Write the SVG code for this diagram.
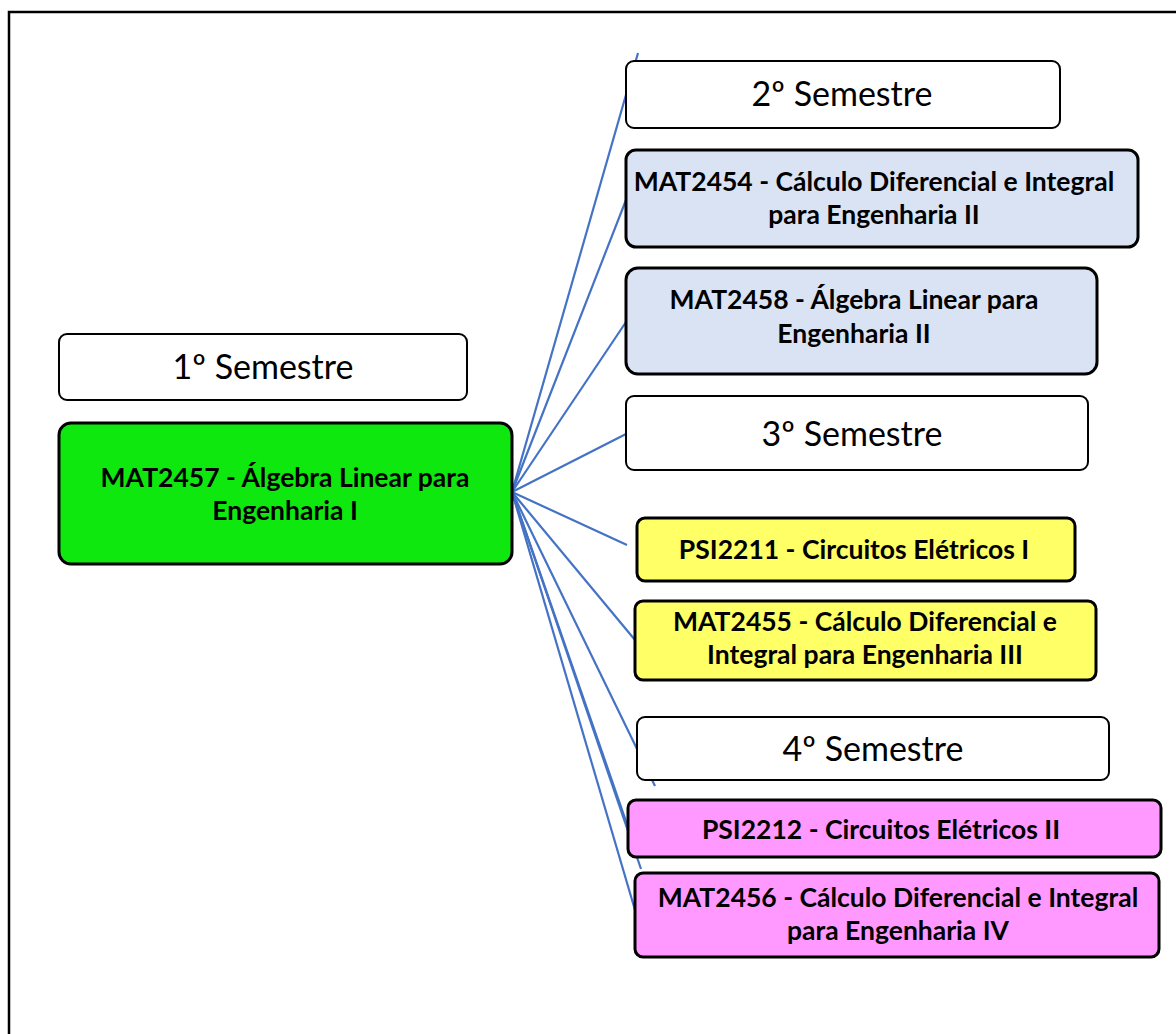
<svg xmlns="http://www.w3.org/2000/svg" width="1176" height="1034" viewBox="0 0 1176 1034">
  <style>
    .frame { fill: #ffffff; stroke: #000000; stroke-width: 2.5; }
    .sem { fill: #ffffff; stroke: #000000; stroke-width: 2; }
    .course { stroke: #000000; stroke-width: 3; }
    .blue { fill: #dae3f3; }
    .green { fill: #0fe80f; }
    .yellow { fill: #ffff66; }
    .pink { fill: #ff99ff; }
    .semtxt { font-family: Lato, "Liberation Sans", sans-serif; font-size: 34px; fill: #000000; text-anchor: middle; }
    .ctxt { font-family: Lato, "Liberation Sans", sans-serif; font-size: 26.5px; font-weight: bold; fill: #000000; text-anchor: middle; }
    .link { stroke: #4472c4; stroke-width: 2.2; fill: none; }
  </style>

  <rect class="frame" x="9" y="12" width="1200" height="1100"/>

  <!-- prerequisite links from MAT2457 -->
  <g id="connectors">
    <line class="link" x1="512" y1="492" x2="638" y2="53"/>
    <line class="link" x1="512" y1="492" x2="626" y2="200"/>
    <line class="link" x1="512" y1="492" x2="626" y2="322"/>
    <line class="link" x1="512" y1="492" x2="626" y2="434"/>
    <line class="link" x1="512" y1="492" x2="627" y2="545"/>
    <line class="link" x1="512" y1="492" x2="635" y2="640"/>
    <line class="link" x1="512" y1="492" x2="655" y2="786"/>
    <line class="link" x1="512" y1="492" x2="628" y2="827"/>
    <line class="link" x1="512" y1="492" x2="641" y2="869"/>
    <line class="link" x1="512" y1="492" x2="635" y2="910"/>
  </g>

  <g id="sem1">
    <rect class="sem" x="59" y="334" width="408" height="66" rx="8"/>
    <text class="semtxt" x="263" y="379">1º Semestre</text>
  </g>
  <g id="mat2457">
    <rect class="course green" x="59" y="423" width="453" height="141" rx="12"/>
    <text class="ctxt" x="285" y="487">MAT2457 - Álgebra Linear para</text>
    <text class="ctxt" x="285" y="520">Engenharia I</text>
  </g>

  <g id="sem2">
    <rect class="sem" x="626" y="61" width="434" height="67" rx="8"/>
    <text class="semtxt" x="842" y="106">2º Semestre</text>
  </g>
  <g id="mat2454">
    <rect class="course blue" x="626" y="150" width="512" height="97" rx="10"/>
    <text class="ctxt" x="874" y="191">MAT2454 - Cálculo Diferencial e Integral</text>
    <text class="ctxt" x="874" y="224">para Engenharia II</text>
  </g>
  <g id="mat2458">
    <rect class="course blue" x="626" y="268" width="471" height="106" rx="12"/>
    <text class="ctxt" x="854" y="309">MAT2458 - Álgebra Linear para</text>
    <text class="ctxt" x="854" y="343">Engenharia II</text>
  </g>

  <g id="sem3">
    <rect class="sem" x="626" y="396" width="462" height="74" rx="8"/>
    <text class="semtxt" x="852" y="446">3º Semestre</text>
  </g>
  <g id="psi2211">
    <rect class="course yellow" x="637" y="518" width="438" height="63" rx="8"/>
    <text class="ctxt" x="854" y="559">PSI2211 - Circuitos Elétricos I</text>
  </g>
  <g id="mat2455">
    <rect class="course yellow" x="635" y="601" width="461" height="79" rx="8"/>
    <text class="ctxt" x="865" y="631">MAT2455 - Cálculo Diferencial e</text>
    <text class="ctxt" x="865" y="664">Integral para Engenharia III</text>
  </g>

  <g id="sem4">
    <rect class="sem" x="637" y="717" width="472" height="63" rx="8"/>
    <text class="semtxt" x="873" y="761">4º Semestre</text>
  </g>
  <g id="psi2212">
    <rect class="course pink" x="628" y="800" width="533" height="57" rx="8"/>
    <text class="ctxt" x="881" y="839">PSI2212 - Circuitos Elétricos II</text>
  </g>
  <g id="mat2456">
    <rect class="course pink" x="635" y="873" width="524" height="84" rx="8"/>
    <text class="ctxt" x="898" y="907">MAT2456 - Cálculo Diferencial e Integral</text>
    <text class="ctxt" x="898" y="940">para Engenharia IV</text>
  </g>
</svg>
